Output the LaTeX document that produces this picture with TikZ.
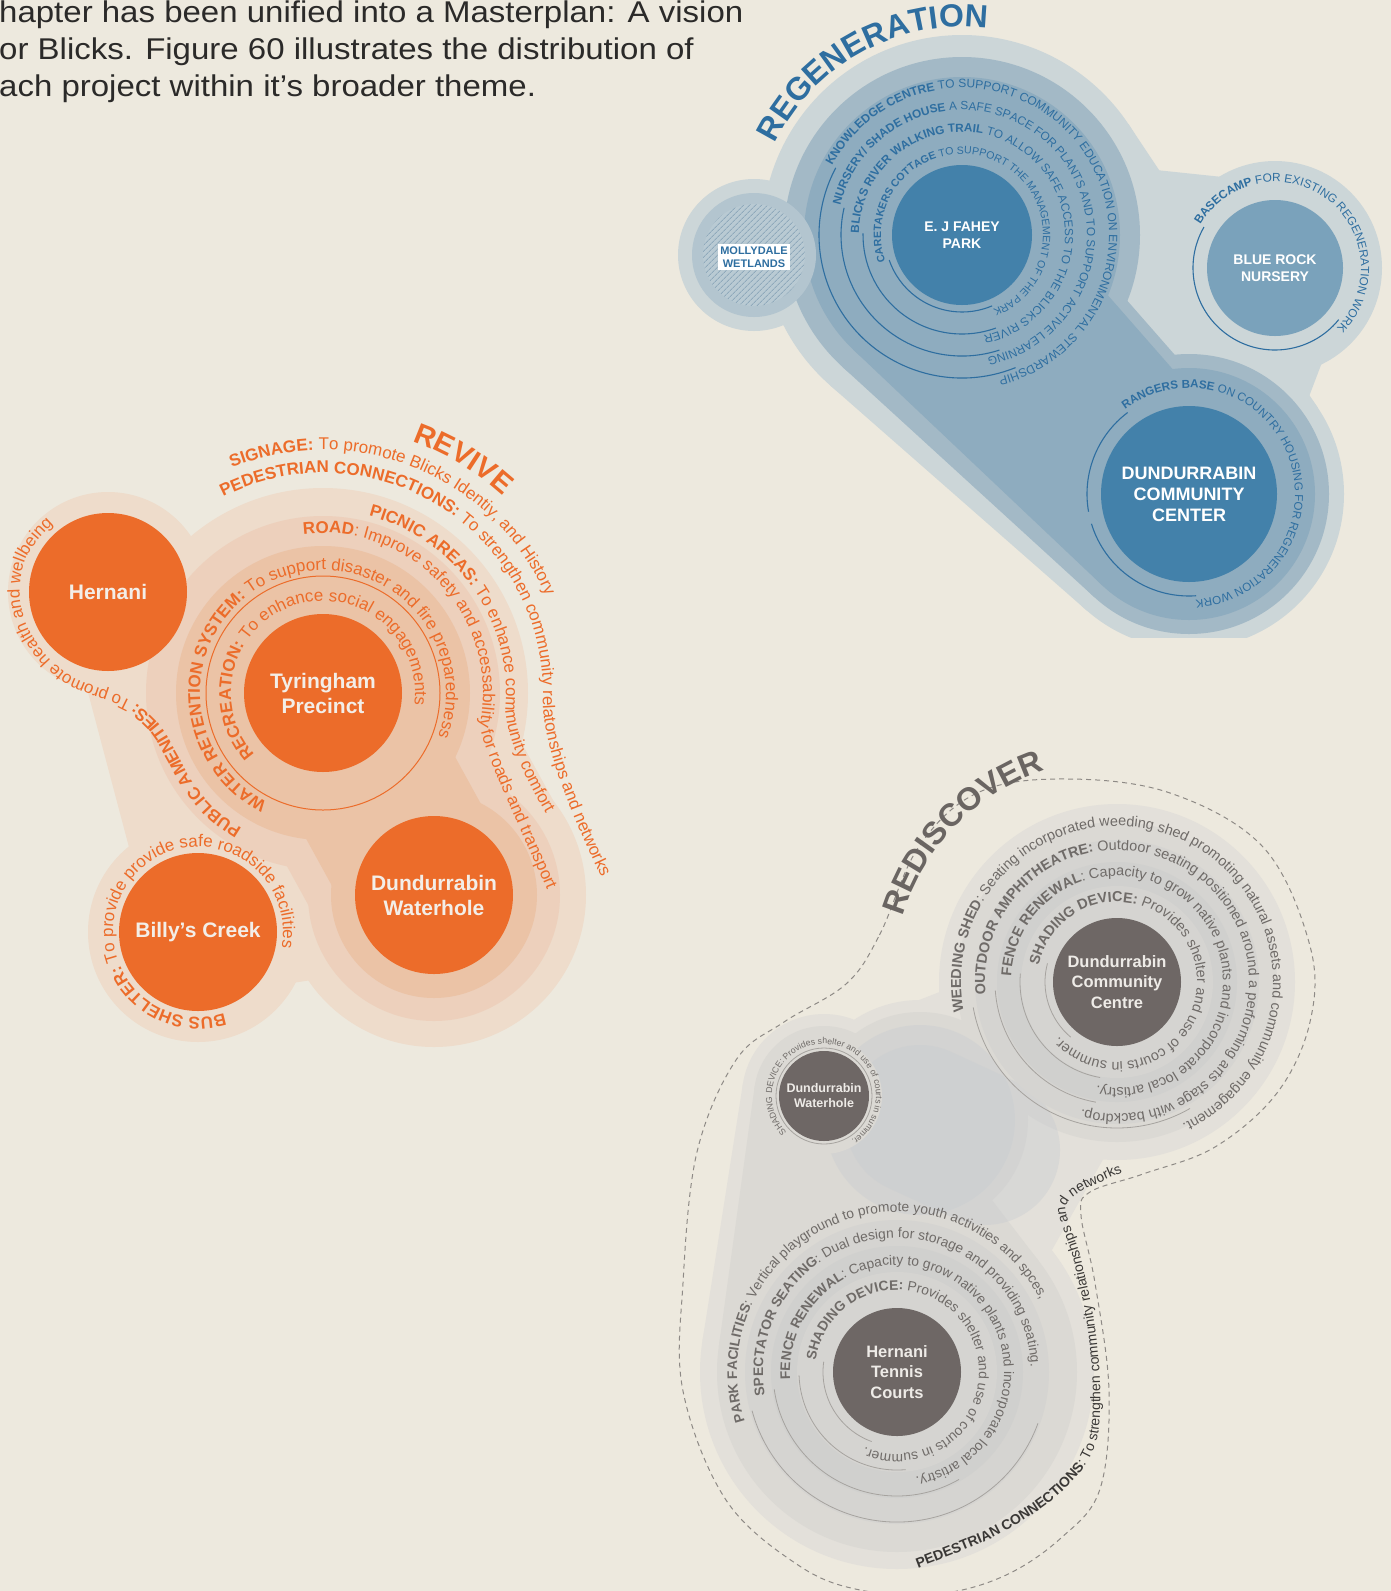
\documentclass[tikz,border=0pt]{standalone}
\usepackage{fontspec}
\setmainfont{Liberation Sans}
\usetikzlibrary{calc,decorations.text,patterns.meta}
\definecolor{Paper}{HTML}{EDE9DE}
\definecolor{Ink}{HTML}{2B2A29}
\definecolor{RegBlue}{HTML}{2E6EA0}
\definecolor{RegDisc}{HTML}{4381AA}
\definecolor{RegRock}{HTML}{7AA2BB}
\definecolor{RegA}{HTML}{CCD6D8}
\definecolor{RegB}{HTML}{A3B9C6}
\definecolor{RegC}{HTML}{8EACBF}
\definecolor{RegMolly}{HTML}{B3C5CF}
\definecolor{RegMollyIn}{HTML}{B9CAD3}
\definecolor{RegHatch}{HTML}{8FA9BB}
\definecolor{RevOrange}{HTML}{EC6C2A}
\definecolor{RevA}{HTML}{EEDCCB}
\definecolor{RevB}{HTML}{EDD0BC}
\definecolor{RevC}{HTML}{EBC3A6}
\definecolor{RevLabel}{HTML}{F3EEE8}
\definecolor{RedDisc}{HTML}{6E6765}
\definecolor{RedText}{HTML}{6F6B68}
\definecolor{RedTitle}{HTML}{6A6562}
\definecolor{RedLine}{HTML}{A6A39F}
\definecolor{RedDash}{HTML}{8E8A86}
\definecolor{RedA}{HTML}{E3E0DA}
\definecolor{RedB}{HTML}{DBD9D4}
\definecolor{RedC}{HTML}{D5D4D1}
\definecolor{RedD}{HTML}{D0D0CE}
\definecolor{RedBlue}{HTML}{C8CCD1}
\definecolor{RedLabel}{HTML}{EEEBE7}
\definecolor{RedInk}{HTML}{3A3836}
\newcommand\fIntro{\fontsize{30}{34}\selectfont}
\newcommand\fRegTitle{\fontsize{32}{36}\selectfont\bfseries}
\newcommand\fRegLab{\fontsize{14}{16.5}\selectfont\bfseries}
\newcommand\fRegBig{\fontsize{18}{21}\selectfont\bfseries}
\newcommand\fMolly{\fontsize{11}{13.5}\selectfont\bfseries}
\newcommand\fRevTitle{\fontsize{29}{32}\selectfont\bfseries}
\newcommand\fRevB{\fontsize{17}{19}\selectfont\bfseries}
\newcommand\fRevR{\fontsize{17}{19}\selectfont}
\newcommand\fRevLab{\fontsize{21}{25}\selectfont\bfseries}
\newcommand\fRedTitle{\fontsize{32}{36}\selectfont\bfseries}
\newcommand\fRedB{\fontsize{14.4}{15}\selectfont\bfseries}
\newcommand\fRedR{\fontsize{14.4}{15}\selectfont}
\newcommand\fTenB{\fontsize{13.8}{15}\selectfont\bfseries}
\newcommand\fTenR{\fontsize{13.8}{15}\selectfont}
\newcommand\fRedPB{\fontsize{14}{15}\selectfont\bfseries}
\newcommand\fRedPR{\fontsize{14}{15}\selectfont}
\newcommand\fRedS{\fontsize{8.7}{10}\selectfont}
\newcommand\fRedLab{\fontsize{16.5}{20.5}\selectfont\bfseries}
\newcommand\fRedSmall{\fontsize{12.5}{15}\selectfont\bfseries}
\newcommand\fRing[2]{\fontsize{#1}{12}\selectfont#2}
\tikzset{
  introtext/.style={anchor=base west, inner sep=0pt, text=Ink, font=\fIntro},
  curvetext/.style 2 args={decorate, decoration={text along path, text align=left, text color=#1, text={#2}}},
  capsule/.style={line cap=round, line width=#1},
  regline/.style={draw=RegBlue, line width=1.1pt},
  revline/.style={draw=RevOrange, line width=1pt},
  redline/.style={draw=RedLine, line width=0.8pt},
  reddash/.style={draw=RedDash, line width=1pt, dash pattern=on 5pt off 4pt},
  regdisc/.style={circle, inner sep=0pt, align=center, fill=RegDisc, text=white, font=\fRegLab},
  revdisc/.style={circle, inner sep=0pt, align=center, fill=RevOrange, text=RevLabel, font=\fRevLab, minimum size=158pt},
  reddisc/.style={circle, inner sep=0pt, align=center, fill=RedDisc, text=RedLabel, font=\fRedLab}
}
\begin{document}
\begin{tikzpicture}[x=1pt,y=-1pt]
\path[use as bounding box, fill=Paper] (0,0) rectangle (1391,1591);

% intro text
\node[introtext] (introA) at (-1,22) {\scalebox{1.1}[1]{hapter has been unified into a Masterplan: A vision}};
\node[introtext] (introB) at (-1,59) {\scalebox{1.1}[1]{or Blicks. Figure 60 illustrates the distribution of}};
\node[introtext] (introC) at (-1,96) {\scalebox{1.1}[1]{ach project within it’s broader theme.}};

% ---------------- regeneration
\coordinate (cF) at (962,235);
\coordinate (cM) at (754,255);
\coordinate (cB) at (1275,268);
\coordinate (cD) at (1189,494);
\begin{scope}
\clip (0,0) rectangle (1391,637);
\fill[RegA] (cF) circle[radius=200] (cM) circle[radius=76] (cB) circle[radius=107] (cD) circle[radius=155];
\fill[RegA] ($(cF)+(131.3:200)$) -- ($(cD)+(131.3:155)$) -- ($(cD)+(-33.7:155)$) -- ($(cF)+(-33.7:200)$) -- cycle;
\draw[RegA, capsule=100pt] (cF) -- (cM);
\draw[RegA, capsule=170pt] (cF) -- (cB);
\draw[RegA, capsule=155pt] (cB) -- (cD);
\fill[RegB] (cF) circle[radius=178] (cD) circle[radius=140];
\fill[RegB] (cF) -- ($(cF)+(132.5:178)$) -- ($(cD)+(132.5:140)$) -- (cD) -- cycle;
\draw[RegB, capsule=162pt] (cF) -- (cD);
\draw[RegB, capsule=90pt] (cF) -- (cM);
\fill[RegC] (cF) circle[radius=158] (cD) circle[radius=126];
\fill[RegC] (cF) -- ($(cF)+(133.5:158)$) -- ($(cD)+(133.5:126)$) -- (cD) -- cycle;
\draw[RegC, capsule=140pt] (cF) -- (cD);
\end{scope}
\fill[RegMolly] (cM) circle[radius=62];
\fill[RegMollyIn] (cM) circle[radius=51];
\fill[pattern={Lines[angle=45,distance=4pt,line width=0.9pt]}, pattern color=RegHatch] (cM) circle[radius=51];
\node[fill=white, text=RegBlue, font=\fMolly, align=center, inner sep=2pt] (molly) at (754,257) {MOLLYDALE\\WETLANDS};

\node[regdisc, minimum size=140pt] (fahey) at (cF) {E. J FAHEY\\PARK};
\node[regdisc, fill=RegRock, minimum size=136pt] (bluerock) at (cB) {BLUE ROCK\\NURSERY};
\node[regdisc, font=\fRegBig, minimum size=176pt] (dcc) at (cD) {DUNDURRABIN\\COMMUNITY\\CENTER};

\draw[regline] ([shift={(67:77)}]cF) arc[start angle=67, end angle=161, radius=77];
\draw[regline] ([shift={(70:99)}]cF) arc[start angle=70, end angle=181, radius=99];
\draw[regline] ([shift={(72:121)}]cF) arc[start angle=72, end angle=193, radius=121];
\draw[regline] ([shift={(68:143)}]cF) arc[start angle=68, end angle=208, radius=143];
\draw[regline] ([shift={(39:82)}]cB) arc[start angle=39, end angle=210, radius=82];
\draw[regline] ([shift={(86:102)}]cD) arc[start angle=86, end angle=163, radius=102];
\draw[regline] ([shift={(170:102)}]cD) arc[start angle=170, end angle=233, radius=102];

\path[curvetext={RegBlue}{|\fRegTitle|REGENERATION}] ([shift={(206:208)}]cF) arc[start angle=206, end angle=295, radius=208];
\path[curvetext={RegBlue}{|\fRing{12}\bfseries|KNOWLEDGE CENTRE |\fRing{12}{}|TO SUPPORT COMMUNITY EDUCATION ON ENVIRONMENTAL STEWARDSHIP}] ([shift={(208:147)}]cF) arc[start angle=208, end angle=470, radius=147];
\path[curvetext={RegBlue}{|\fRing{11.8}\bfseries|NURSERY/ SHADE HOUSE |\fRing{11.8}{}|A SAFE SPACE FOR PLANTS AND TO SUPPORT ACTIVE LEARNING}] ([shift={(193.5:125)}]cF) arc[start angle=193.5, end angle=475, radius=125];
\path[curvetext={RegBlue}{|\fRing{11.8}\bfseries|BLICKS RIVER WALKING TRAIL |\fRing{11.8}{}|TO ALLOW SAFE ACCESS TO THE BLICKS RIVER}] ([shift={(181:103)}]cF) arc[start angle=181, end angle=475, radius=103];
\path[curvetext={RegBlue}{|\fRing{10.6}\bfseries|CARETAKERS COTTAGE |\fRing{10.6}{}|TO SUPPORT THE MANAGEMENT OF THE PARK}] ([shift={(161:81)}]cF) arc[start angle=161, end angle=460, radius=81];
\path[curvetext={RegBlue}{|\fRing{11.8}\bfseries|BASECAMP |\fRing{11.8}{}|FOR EXISTING REGENERATION WORK}] ([shift={(210:86)}]cB) arc[start angle=210, end angle=450, radius=86];
\path[curvetext={RegBlue}{|\fRing{11.6}\bfseries|RANGERS BASE |\fRing{11.6}{}|ON COUNTRY HOUSING FOR REGENERATION WORK}] ([shift={(233:106)}]cD) arc[start angle=233, end angle=490, radius=106];

% ---------------- revive
\coordinate (cT) at (323,693);
\coordinate (cHn) at (108,592);
\coordinate (cBc) at (198,932);
\coordinate (cWh) at (434,895);
\fill[RevA] (cHn) circle[radius=100] (cBc) circle[radius=110] (cT) circle[radius=205] (cWh) circle[radius=152];
\draw[RevA, capsule=300pt] (cT) -- (cWh);
\draw[RevA, capsule=170pt] (cHn) -- (cT);
\draw[RevA, capsule=90pt] (cHn) -- (cBc);
\draw[RevA, capsule=130pt] (cBc) -- (cWh);
\draw[RevA, capsule=170pt] (cBc) -- (cT);
\fill[RevB] (cT) circle[radius=177] (cWh) circle[radius=126];
\draw[RevB, capsule=230pt] (cT) -- (cWh);
\fill[RevC] (cT) circle[radius=147] (cWh) circle[radius=103];
\draw[RevC, capsule=170pt] (cT) -- (cWh);
\draw[revline] (cT) circle[radius=117];

\node[revdisc] (hernani) at (cHn) {Hernani};
\node[revdisc] (tyringham) at (cT) {Tyringham\\Precinct};
\node[revdisc] (billys) at (cBc) {Billy’s Creek};
\node[revdisc] (waterhole) at (cWh) {Dundurrabin\\Waterhole};

\path[curvetext={RevOrange}{|\fRevTitle|REVIVE}] ([shift={(289.5:267)}]cT) arc[start angle=289.5, end angle=335, radius=267];
\path[curvetext={RevOrange}{|\fRevB|SIGNAGE: |\fRevR|To promote Blicks Identiy, and History}] ([shift={(248:243)}]cT) arc[start angle=248, end angle=370, radius=243];
\path[curvetext={RevOrange}{|\fRevB|PEDESTRIAN CONNECTIONS: |\fRevR|To strengthen community relatonships and networks}] ([shift={(243:220)}]cT) arc[start angle=243, end angle=362, radius=220] .. controls +(0,55) and +(-30,-60) .. (615,905);
\path[curvetext={RevOrange}{|\fRevB|PICNIC AREAS: |\fRevR|To enhance community comfort}] ([shift={(284.5:183)}]cT) arc[start angle=284.5, end angle=365, radius=183] .. controls +(3,45) and +(-25,-40) .. (568,850);
\path[curvetext={RevOrange}{|\fRevB|ROAD|\fRevR|: Improve safety and accessability for roads and transport}] ([shift={(263:160)}]cT) arc[start angle=263, end angle=372, radius=160] .. controls +(12,50) and +(-15,-50) .. (562,930);
\path[curvetext={RevOrange}{|\fRevB|WATER RETENTION SYSTEM: |\fRevR|To support disaster and fire preparedness}] ([shift={(117:123)}]cT) arc[start angle=117, end angle=410, radius=123];
\path[curvetext={RevOrange}{|\fRevB|RECREATION: |\fRevR|To enhance social engagements}] ([shift={(138:92)}]cT) arc[start angle=138, end angle=390, radius=92];
\path[curvetext={RevOrange}{|\fRevB|PUBLIC AMENITIES: |\fRevR|To promote health and wellbeing}] plot[smooth, tension=0.7] coordinates {(242,828) (214,808) (192,781) (177,754) (164,731) (149,714) (131,701) (110,692) (88,684) (62,670) (36,642) (22,610) (21,577) (32,548) (64,516) (93,505) (123,505) (150,513)};
\path[curvetext={RevOrange}{|\fRevB|BUS SHELTER: |\fRevR|To provide provide safe roadside facilities}] ([shift={(72:85)}]cBc) arc[start angle=72, end angle=410, radius=85];

% ---------------- rediscover
\coordinate (cD2) at (1117,982);
\coordinate (cW2) at (824,1096);
\coordinate (cH2) at (897,1372);
\coordinate (cMid) at (920,1120);
\fill[RedA] (cD2) circle[radius=178] (cH2) circle[radius=197] (cW2) circle[radius=82] (cMid) circle[radius=120];
\fill[RedA] ($(cW2)+(189:82)$) -- ($(cH2)+(189:197)$) -- ($(cH2)+(-38.6:197)$) -- ($(cW2)+(-38.6:82)$) -- cycle;
\draw[RedA, capsule=150pt] (cD2) -- (cH2);
\draw[RedA, capsule=110pt] (cW2) -- (cD2);
\fill[RedB] (cD2) circle[radius=160] (cH2) circle[radius=180] (cW2) circle[radius=70] (cMid) circle[radius=108];
\fill[RedB] ($(cW2)+(188:70)$) -- ($(cH2)+(188:180)$) -- ($(cH2)+(-38:180)$) -- ($(cW2)+(-38:70)$) -- cycle;
\fill[RedBlue, opacity=0.4] (cMid) circle[radius=95];
\draw[RedBlue, opacity=0.4, capsule=150pt] (cMid) -- (985,1150);
\fill[RedC] (cD2) circle[radius=142] (cH2) circle[radius=152];
\fill[RedD] (cD2) circle[radius=120] (cH2) circle[radius=126];
\fill[RedC] (cD2) circle[radius=96] (cH2) circle[radius=100];
\fill[RedB] (cW2) circle[radius=58];
\draw[reddash] plot[smooth cycle, tension=0.6] coordinates {(846,984) (879.5,935) (918,848) (975,794) (1057,779) (1167,792) (1263,847) (1310,946) (1310,1022) (1277,1093) (1215,1147) (1143,1174) (1090,1192) (1081,1215) (1095,1283) (1109,1391) (1100,1489) (1061,1538) (1004,1576) (937,1594) (860,1590) (798,1565) (726,1500) (683,1391) (683,1283) (697,1152) (736,1060) (784,1022)};

\draw[redline] ([shift={(130:72)}]cD2) arc[start angle=130, end angle=195, radius=72];
\draw[redline] ([shift={(100:97)}]cD2) arc[start angle=100, end angle=185, radius=97];
\draw[redline] ([shift={(100:122)}]cD2) arc[start angle=100, end angle=176, radius=122];
\draw[redline] ([shift={(60:146)}]cD2) arc[start angle=60, end angle=170, radius=146];
\draw[redline] ([shift={(110:74)}]cH2) arc[start angle=110, end angle=188, radius=74];
\draw[redline] ([shift={(85:98)}]cH2) arc[start angle=85, end angle=178, radius=98];
\draw[redline] ([shift={(60:124)}]cH2) arc[start angle=60, end angle=172, radius=124];
\draw[redline] ([shift={(20:150)}]cH2) arc[start angle=20, end angle=165, radius=150];
\draw[redline] (cW2) circle[radius=48];

\node[reddisc, minimum size=128pt] (dcc2) at (cD2) {Dundurrabin\\Community\\Centre};
\node[reddisc, minimum size=128pt] (tennis) at (cH2) {Hernani\\Tennis\\Courts};
\node[reddisc, font=\fRedSmall, minimum size=90pt] (waterhole2) at (cW2) {Dundurrabin\\Waterhole};

\path[curvetext={RedTitle}{|\fRedTitle|REDISCOVER}] ([shift={(197:224)}]cD2) arc[start angle=197, end angle=265, radius=224];
\path[curvetext={RedText}{|\fRedB|SHADING DEVICE: |\fRedR|Provides shelter and use of courts in summer.}] ([shift={(192:80)}]cD2) arc[start angle=192, end angle=545, radius=80];
\path[curvetext={RedText}{|\fRedB|FENCE RENEWAL|\fRedR|: Capacity to grow native plants and incorporate local artistry.}] ([shift={(183:106)}]cD2) arc[start angle=183, end angle=510, radius=106];
\path[curvetext={RedText}{|\fRedB|OUTDOOR AMPHITHEATRE: |\fRedR|Outdoor seating positioned around a performing arts stage with backdrop.}] ([shift={(174.5:132)}]cD2) arc[start angle=174.5, end angle=510, radius=132];
\path[curvetext={RedText}{|\fRedB|WEEDING SHED|\fRedR|: Seating incorporated weeding shed promoting natural assets and community engagement.}] ([shift={(169:156)}]cD2) arc[start angle=169, end angle=480, radius=156];
\path[curvetext={RedText}{|\fTenB|SHADING DEVICE: |\fTenR|Provides shelter and use of courts in summer.}] ([shift={(188:82)}]cH2) arc[start angle=188, end angle=540, radius=82];
\path[curvetext={RedText}{|\fTenB|FENCE RENEWAL|\fTenR|: Capacity to grow native plants and incorporate local artistry.}] ([shift={(176:107)}]cH2) arc[start angle=176, end angle=500, radius=107];
\path[curvetext={RedText}{|\fTenB|SPECTATOR SEATING|\fTenR|: Dual design for storage and providing seating.}] ([shift={(170:134)}]cH2) arc[start angle=170, end angle=430, radius=134];
\path[curvetext={RedText}{|\fTenB|PARK FACILITIES|\fTenR|: Vertical playground to promote youth activities and spces,}] ([shift={(162:160)}]cH2) arc[start angle=162, end angle=390, radius=160];
\path[curvetext={RedText}{|\fRedS|SHADING DEVICE: Provides shelter and use of courts in summer.}] ([shift={(136:52)}]cW2) arc[start angle=136, end angle=480, radius=52];
\path[curvetext={RedInk}{|\fRedPB|PEDESTRIAN CONNECTIONS|\fRedPR|: To strengthen community relationships and networks}] plot[smooth, tension=0.5] coordinates {(918,1568) (992,1538) (1046,1505) (1082,1470) (1098,1435) (1100,1380) (1094,1320) (1080,1255) (1068,1220) (1066,1205) (1078,1193) (1105,1180) (1140,1165) (1180,1152) (1220,1142)};
\end{tikzpicture}
\end{document}
